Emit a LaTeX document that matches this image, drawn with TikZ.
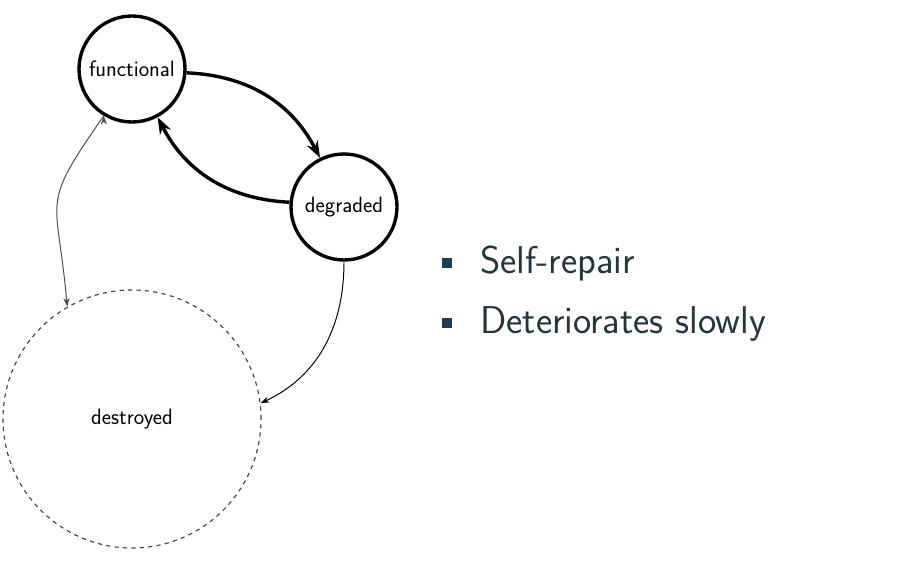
\documentclass[tikz,border=0pt]{standalone}
\usepackage{tikz}
\usetikzlibrary{arrows.meta}
\definecolor{fgtext}{HTML}{23373B}
\definecolor{bulletcol}{HTML}{1E3D52}
\tikzset{
    state/.style={shape=circle,draw=black,line width=2.4pt,minimum size=2.65cm,inner sep=0pt,font=\sffamily\fontsize{15.8}{18}\selectfont},
    lost/.style={shape=circle,draw=black!75,dashed,line width=0.8pt,minimum size=6.45cm,font=\sffamily\fontsize{15.8}{18}\selectfont},
    bullet/.style={shape=rectangle,fill=bulletcol,minimum size=0.25cm,inner sep=0pt},
    item/.style={anchor=base west,inner sep=0pt,text=fgtext,font=\sffamily\fontsize{27.6}{32}\selectfont}
}

\begin{document}
\begin{tikzpicture}
        \useasboundingbox (0,0) rectangle (22.75,14.25);
        \node[state] (F) at (3.3,12.525) {functional};
        \node[state] (G) at (8.6,9.075) {degraded};
        \node[lost] (X) at (3.3,3.775) {destroyed};
        \path [-{Stealth[length=0.42cm,width=0.3cm]},line width=2.4pt] (F.-4) edge[bend left=30] (G.116);
        \path [-{Stealth[length=0.42cm,width=0.3cm]},line width=2.4pt] (G.175) edge[bend left=30] (F.-62);
        \path [-{Stealth[length=0.22cm,width=0.15cm]},line width=0.7pt,draw=black!70] (F.239) edge[out=235,in=95,looseness=1.5] (X.120);
        \path [-{Stealth[length=0.22cm,width=0.15cm]},line width=0.7pt] (G.-90) edge[out=-90,in=25] (X.7);
        \node[bullet] (b1) at (11.175,7.675) {};
        \node[bullet] (b2) at (11.175,6.175) {};
        \node[item] (t1) at (12.0,7.425) {Self-repair};
        \node[item] (t2) at (12.0,5.925) {Deteriorates slowly};
    \end{tikzpicture}
\end{document}
